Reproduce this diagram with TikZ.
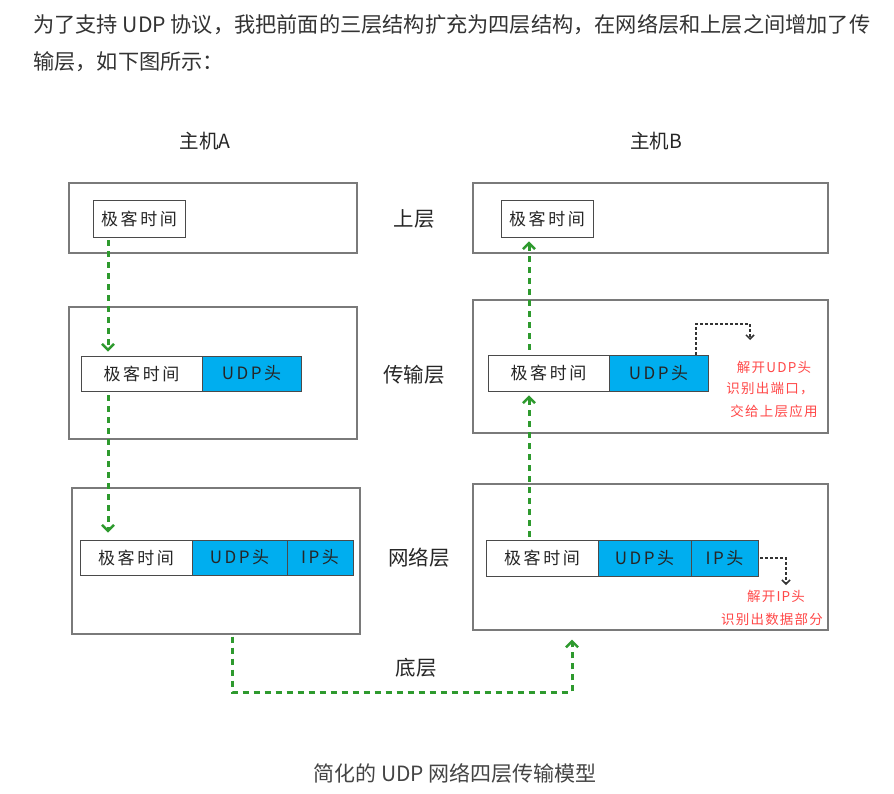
\documentclass[tikz,border=0pt]{standalone}
\usepackage{fontspec}
\setmainfont{Noto Sans CJK SC}
\newfontfamily\handfont[LetterSpace=15]{Noto Sans CJK SC}
\newfontfamily\notefont[LetterSpace=9]{Noto Sans CJK SC}
\usetikzlibrary{arrows.meta}
\definecolor{udpblue}{HTML}{00AEEF}
\definecolor{boxgray}{HTML}{7A7A7A}
\definecolor{pktline}{HTML}{4A4A4A}
\definecolor{gline}{HTML}{2E9A2E}
\definecolor{redtxt}{HTML}{FF4848}
\definecolor{txtgray}{HTML}{333333}
\definecolor{capgray}{HTML}{444444}
\begin{document}
\begin{tikzpicture}[x=1pt,y=-1pt,
  layerbox/.style={draw=boxgray,line width=1.2pt,inner sep=0pt},
  pkt/.style={draw=pktline,line width=0.9pt,inner sep=0pt,minimum height=35pt,
    font=\handfont\fontsize{17pt}{19pt}\selectfont,text=black!85},
  pktw/.style={pkt,fill=white},
  pktb/.style={pkt,fill=udpblue},
  layerlabel/.style={font=\fontsize{20.5pt}{23pt}\selectfont,text=black!85},
  hostlabel/.style={font=\fontsize{19.5pt}{22pt}\selectfont,text=black!85},
  note/.style={font=\notefont\fontsize{13.5pt}{15pt}\selectfont,text=redtxt},
  garrow/.style={draw=gline,line width=3pt,dash pattern=on 6pt off 5pt,
    -{Straight Barb[length=6pt,width=12pt,line width=2.4pt]}},
  karrow/.style={draw=black!80,line width=1.5pt,dash pattern=on 2.5pt off 2.5pt,
    -{Straight Barb[length=4pt,width=8pt,line width=1.5pt]}},
  para/.style={font=\fontsize{21.2pt}{25pt}\selectfont,text=txtgray,anchor=west,inner sep=0pt}
]
\useasboundingbox[fill=white] (0,0) rectangle (894,793);

% paragraph
\node[para] (p1) at (33,25) {为了支持 UDP 协议，我把前面的三层结构扩充为四层结构，在网络层和上层之间增加了传};
\node[para] (p2) at (33,62) {输层，如下图所示：};

% host labels
\node[hostlabel] (hA) at (205,141) {主机A};
\node[hostlabel] (hB) at (656,141) {主机B};

% layer boxes host A
\node[layerbox,minimum width=288pt,minimum height=70pt] (aU) at (213,218) {};
\node[layerbox,minimum width=288pt,minimum height=132pt] (aT) at (213,373) {};
\node[layerbox,minimum width=288pt,minimum height=146pt] (aN) at (216,561) {};
% layer boxes host B
\node[layerbox,minimum width=355pt,minimum height=70pt] (bU) at (650.5,218) {};
\node[layerbox,minimum width=355pt,minimum height=133pt] (bT) at (650.5,366.5) {};
\node[layerbox,minimum width=355pt,minimum height=146pt] (bN) at (650.5,557) {};

% layer labels
\node[layerlabel] (lU) at (414,219) {上层};
\node[layerlabel] (lT) at (414,375) {传输层};
\node[layerlabel] (lN) at (419,558) {网络层};
\node[layerlabel] (lB) at (416,668) {底层};

% host A packets
\node[pktw,minimum width=92pt,minimum height=37pt] (aUt) at (139,218.5) {极客时间};
\node[pktw,minimum width=121pt] (aTw) at (141.5,373.5) {极客时间};
\node[pktb,minimum width=99pt] (aTb) at (251.5,373.5) {UDP头};
\node[pktw,minimum width=112pt] (aNw) at (136,557.5) {极客时间};
\node[pktb,minimum width=95pt] (aNu) at (239.5,557.5) {UDP头};
\node[pktb,minimum width=66pt] (aNi) at (320,557.5) {IP头};

% host B packets
\node[pktw,minimum width=92pt,minimum height=37pt] (bUt) at (547,218.5) {极客时间};
\node[pktw,minimum width=121pt,minimum height=36pt] (bTw) at (548.5,373) {极客时间};
\node[pktb,minimum width=99pt,minimum height=36pt] (bTb) at (658.5,373) {UDP头};
\node[pktw,minimum width=112pt,minimum height=36pt] (bNw) at (542,558) {极客时间};
\node[pktb,minimum width=93pt,minimum height=36pt] (bNu) at (644.5,558) {UDP头};
\node[pktb,minimum width=67pt,minimum height=36pt] (bNi) at (724.5,558) {IP头};

% red notes
\node[note] (r1) at (774,367) {解开UDP头};
\node[note] (r2) at (770,389) {识别出端口，};
\node[note] (r3) at (774,411) {交给上层应用};
\node[note] (r4) at (776,596) {解开IP头};
\node[note] (r5) at (772,619) {识别出数据部分};

% caption
\node[font=\fontsize{21pt}{24pt}\selectfont,text=capgray] (cap) at (455,773) {简化的 UDP 网络四层传输模型};

% green path coordinates
\coordinate (ax) at (108,0);
\coordinate (bx) at (529,0);
\coordinate (lowA) at (232,692);
\coordinate (lowB) at (572,692);

\draw[garrow,shorten <=3pt,shorten >=4pt] (aUt.south -| ax) -- (aTw.north -| ax);
\draw[garrow,shorten <=4pt,shorten >=7pt] (aTw.south -| ax) -- (aNw.north -| ax);
\draw[garrow,shorten <=2pt,shorten >=9pt] (aN.south -| lowA) -- (lowA) -- (lowB) -- (bN.south -| lowB);
\draw[garrow,shorten <=3pt,shorten >=4pt] (bNw.north -| bx) -- (bTw.south -| bx);
\draw[garrow,shorten <=5pt,shorten >=4pt] (bTw.north -| bx) -- (bUt.south -| bx);

% black dotted arrows
\coordinate (t1) at (696,324);
\coordinate (t2) at (750,324);
\coordinate (t3) at (750,340);
\draw[karrow] (bTb.north -| t1) -- (t1) -- (t2) -- (t3);
\coordinate (n1) at (786,558);
\coordinate (n2) at (786,585);
\draw[karrow,shorten <=2pt] (bNi.east) -- (n1) -- (n2);
\end{tikzpicture}
\end{document}
